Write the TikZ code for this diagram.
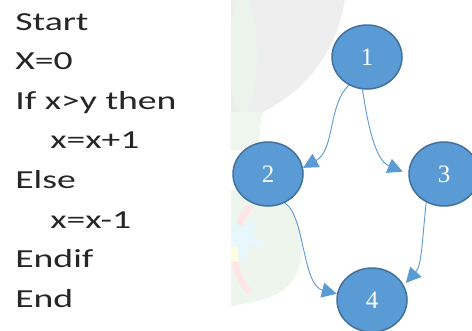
\documentclass[tikz,border=0pt]{standalone}
\usepackage{fontspec}
\setmainfont{Liberation Serif}
\newfontfamily\codefont{Carlito}
\usetikzlibrary{shapes.geometric}
\usetikzlibrary{arrows.meta}

\definecolor{nodeblue}{HTML}{5B9BD5}
\definecolor{nodeedge}{HTML}{41719C}

\begin{document}
\begin{tikzpicture}[x=1pt,y=-1pt,
    codeline/.style={anchor=base west, inner sep=0pt, text=black!85,
      font=\codefont\fontsize{26}{26}\selectfont, xscale=1.45},
    vertex/.style={ellipse, draw=nodeedge, line width=1.5pt, fill=nodeblue,
      minimum width=70pt, minimum height=64pt, inner sep=0pt, text=white,
      font=\fontsize{25}{25}\selectfont},
    flow/.style={draw=nodeblue, line width=0.9pt,
      -{Triangle[length=15pt,width=15pt]}}]
        \useasboundingbox (0,0) rectangle (472,330);
        \fill[white] (0,0) rectangle (472,330);
        %
        % faded emblem behind the graph
        \begin{scope}
          \clip (231,0) rectangle (472,306);
          \fill[blue!5!gray!13] (200,-20) circle (146);
          \fill[green!30!gray!12] (243,55) ellipse (14 and 58);
          \fill[green!30!gray!10] (231,112) -- (262,112) -- (258,150) -- (231,150) -- cycle;
          \fill[green!30!gray!11] (231,190) .. controls (290,185) and (310,230) .. (300,262)
            .. controls (295,292) and (270,300) .. (231,306) -- cycle;
          \draw[red!10, line width=6pt] (300,250) ++(140:66) arc (140:222:66);
          \fill[yellow!12] (231,235) rectangle (238,262);
          \fill[cyan!10, shift={(243,238)}] (90:26) -- (126:10) -- (162:26) -- (198:10)
            -- (234:26) -- (270:10) -- (306:26) -- (342:10) -- (18:26) -- (54:10) -- cycle;
        \end{scope}
        %
        % pseudo code
        \node[codeline] (c1) at (15,30) {Start};
        \node[codeline] (c2) at (15,69) {X=0};
        \node[codeline] (c3) at (15,109) {If x>y then};
        \node[codeline] (c4) at (50,148) {x=x+1};
        \node[codeline] (c5) at (15,188) {Else};
        \node[codeline] (c6) at (50,228) {x=x-1};
        \node[codeline] (c7) at (15,267) {Endif};
        \node[codeline] (c8) at (15,307) {End};
        %
        % control flow graph
        \node[vertex] (n1) at (367,57) {\raisebox{-3pt}{1}};
        \node[vertex] (n2) at (268,174) {\raisebox{-3pt}{2}};
        \node[vertex] (n3) at (444,174) {\raisebox{-3pt}{3}};
        \node[vertex] (n4) at (372,300) {\raisebox{-3pt}{4}};
        %
        \draw[flow] (n1.237) .. controls (328,105) and (335,150) .. (n2.10);
        \draw[flow, shorten >=6pt] (n1.262) .. controls (368,125) and (375,160) .. (n3.west);
        \draw[flow] (n2.300) .. controls (305,215) and (302,285) .. (n4.170);
        \draw[flow, shorten >=3pt] (n3.238) .. controls (422,240) and (422,265) .. (n4.25);
      \end{tikzpicture}
\end{document}
